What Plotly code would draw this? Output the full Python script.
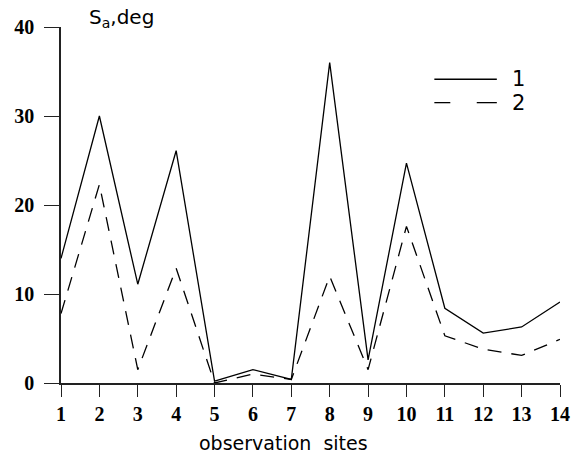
import plotly.graph_objects as go

sites = list(range(1, 15))
series1 = [14.0, 30.0, 11.1, 26.1, 0.2, 1.5, 0.4, 36.0, 2.6, 24.7, 8.4, 5.6, 6.3, 9.1]
series2 = [7.8, 22.3, 1.5, 12.9, 0.0, 1.0, 0.4, 12.0, 1.5, 17.6, 5.3, 3.8, 3.1, 4.9]
x_ticks = list(range(1, 15))
y_ticks = [0, 10, 20, 30, 40]

fig = go.Figure()
fig.add_trace(go.Scatter(x=sites, y=series1, mode="lines",
                         line=dict(color="black", width=1.3), showlegend=False))
fig.add_trace(go.Scatter(x=sites, y=series2, mode="lines",
                         line=dict(color="black", width=1.3, dash="14px,10px"), showlegend=False))

W, H = 579, 455
L, R, T, B = 60.5, 9, 27, 71.7
pw = W - L - R
ph = H - T - B

def px(xp):
    return (xp - L) / pw

def py(yp):
    return (H - B - yp) / ph

tickfont = dict(family="Liberation Serif", size=20, color="black")

fig.update_layout(
    width=W, height=H,
    margin=dict(l=L, r=R, t=T, b=B),
    plot_bgcolor="white", paper_bgcolor="white",
    xaxis=dict(range=[1, 14], tickvals=x_ticks, ticktext=[f"<b>{v}</b>" for v in x_ticks],
               showgrid=False, zeroline=False, showline=True, linecolor="#222", linewidth=1.5,
               ticks="outside", ticklen=12, tickwidth=1.2, tickcolor="#222",
               tickfont=tickfont, ticklabelstandoff=0, ticklabeloverflow="allow"),
    yaxis=dict(range=[0, 40], tickvals=y_ticks, ticktext=[f"<b>{v}</b>" for v in y_ticks],
               showgrid=False, zeroline=False, showline=True, linecolor="#222", linewidth=1.5,
               ticks="outside", ticklen=15, tickwidth=1.2, tickcolor="#222",
               tickfont=tickfont, ticklabelstandoff=6, ticklabeloverflow="allow"),
)

sans = "DejaVu Sans"
# Manual legend
fig.add_shape(type="line", xref="paper", yref="paper",
              x0=px(441.7), x1=px(505.5), y0=py(79.3), y1=py(79.3),
              line=dict(color="black", width=1.3))
fig.add_shape(type="line", xref="paper", yref="paper",
              x0=px(441.7), x1=px(458), y0=py(102.7), y1=py(102.7),
              line=dict(color="black", width=1.3))
fig.add_shape(type="line", xref="paper", yref="paper",
              x0=px(485), x1=px(505.5), y0=py(102.7), y1=py(102.7),
              line=dict(color="black", width=1.3))
for lab, yy in [("1", 79.3), ("2", 102.7)]:
    fig.add_annotation(text=lab, xref="paper", yref="paper", x=px(528), y=py(yy),
                       xanchor="center", yanchor="middle", showarrow=False,
                       font=dict(family=sans, size=21, color="black"))

fig.add_annotation(text="S<sub>a</sub>,deg", xref="paper", yref="paper",
                   x=px(87), y=py(18), xanchor="left", yanchor="middle", showarrow=False,
                   font=dict(family=sans, size=20, color="black"))
fig.add_annotation(text="observation  sites", xref="paper", yref="paper",
                   x=px(288), y=py(443.5), xanchor="center", yanchor="middle", showarrow=False,
                   font=dict(family=sans, size=19, color="black"))

fig.write_html("out.html")
